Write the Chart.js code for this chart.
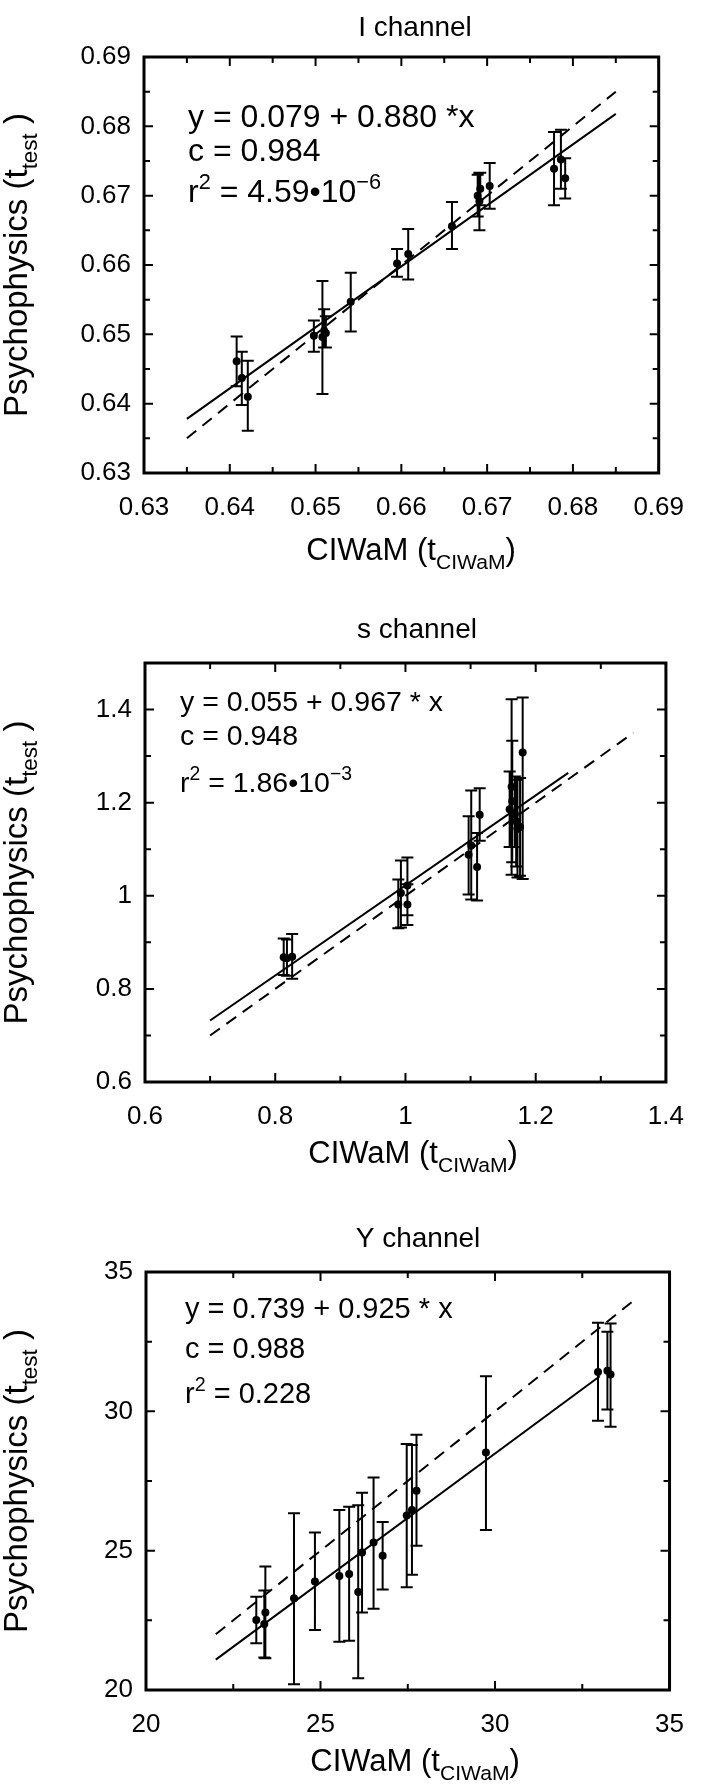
<!DOCTYPE html>
<html>
<head>
<meta charset="utf-8">
<script src="https://cdn.jsdelivr.net/npm/chart.js@4.4.1/dist/chart.umd.min.js"></script>
<style>
  html, body { margin: 0; padding: 0; background: #fff; }
  #wrap { position: relative; width: 703px; height: 1786px; overflow: hidden; }
  canvas { position: absolute; left: 0; }
</style>
</head>
<body>
<div id="wrap">
  <canvas id="chartI" width="703" height="600" style="top:0px"></canvas>
  <canvas id="chartS" width="703" height="600" style="top:600px"></canvas>
  <canvas id="chartY" width="703" height="586" style="top:1200px"></canvas>
</div>
<script>
// I channel
const xI = [0.6408, 0.6414, 0.6421, 0.6498, 0.6508, 0.6510, 0.6512, 0.6541, 0.6595, 0.6608, 0.6659, 0.6689, 0.6691, 0.6692, 0.6703, 0.6778, 0.6786, 0.6791];
const yI = [0.6461, 0.6437, 0.6410, 0.6498, 0.6496, 0.6505, 0.6502, 0.6547, 0.6602, 0.6616, 0.6656, 0.6700, 0.6692, 0.6710, 0.6714, 0.6739, 0.6752, 0.6725];
const loI = [0.6425, 0.6398, 0.6361, 0.6475, 0.6414, 0.6481, 0.6481, 0.6504, 0.6583, 0.6579, 0.6623, 0.6670, 0.6650, 0.6686, 0.6681, 0.6686, 0.6710, 0.6696];
const hiI = [0.6497, 0.6475, 0.6462, 0.6520, 0.6577, 0.6536, 0.6526, 0.6589, 0.6623, 0.6652, 0.6691, 0.6730, 0.6733, 0.6733, 0.6747, 0.6792, 0.6795, 0.6754];
const fitXI = [0.635, 0.685];
const fitYI = [0.6378, 0.6818];
const diagI = [0.635, 0.685];
const majorI = [0.63, 0.64, 0.65, 0.66, 0.67, 0.68, 0.69];
const minorI = [0.635, 0.645, 0.655, 0.665, 0.675, 0.685];

// s channel
const xS = [0.813, 0.818, 0.826, 0.989, 0.993, 1.003, 1.003, 1.097, 1.101, 1.110, 1.114, 1.160, 1.163, 1.164, 1.168, 1.170, 1.172, 1.176, 1.180];
const yS = [0.868, 0.866, 0.869, 0.981, 1.006, 1.022, 0.981, 1.088, 1.108, 1.062, 1.174, 1.186, 1.234, 1.203, 1.175, 1.160, 1.144, 1.148, 1.308];
const loS = [0.830, 0.828, 0.822, 0.930, 0.932, 0.958, 0.937, 1.003, 0.992, 0.990, 1.118, 1.105, 1.045, 1.072, 1.105, 1.063, 1.039, 1.043, 1.036];
const hiS = [0.908, 0.906, 0.918, 1.035, 1.076, 1.082, 1.025, 1.171, 1.226, 1.135, 1.231, 1.267, 1.422, 1.333, 1.256, 1.249, 1.249, 1.253, 1.426];
const fitXS = [0.7, 1.25];
const fitYS = [0.732, 1.264];
const diagS = [0.7, 1.35];
const majorXS = [0.6, 0.8, 1.0, 1.2, 1.4];
const minorXS = [0.7, 0.9, 1.1, 1.3];
const majorYS = [0.6, 0.8, 1.0, 1.2, 1.4];
const minorYS = [0.7, 0.9, 1.1, 1.3];

// Y channel
const xY = [23.16, 23.42, 23.39, 24.24, 24.84, 25.54, 25.82, 26.08, 26.19, 26.52, 26.78, 27.47, 27.62, 27.75, 29.74, 32.95, 33.22, 33.31];
const yY = [22.51, 22.78, 22.37, 23.29, 23.89, 24.09, 24.16, 23.52, 24.93, 25.29, 24.82, 26.26, 26.46, 27.15, 28.52, 31.41, 31.46, 31.32];
const loY = [21.68, 21.14, 21.17, 20.21, 22.15, 21.73, 21.77, 20.42, 22.78, 22.92, 23.61, 23.69, 24.14, 25.18, 25.74, 29.66, 30.07, 29.45];
const hiY = [23.35, 24.43, 23.57, 26.34, 25.65, 26.46, 26.58, 26.63, 27.08, 27.63, 26.03, 28.83, 28.79, 29.16, 31.26, 33.18, 32.86, 33.15];
const fitXY = [22, 33.0];
const fitYY = [21.09, 31.26];
const diagY = [22, 34];
const majorY = [20, 25, 30, 35];
const minorY = [22.5, 27.5, 32.5];

const FONT = "'Liberation Sans', Arial, Helvetica, sans-serif";
Chart.defaults.font.family = FONT;
Chart.defaults.color = "#000";

// text with sub/superscripts: parts = [[text, mode]], mode 0 normal, 1 sub, 2 sup
function richWidth(ctx, parts, size) {
  let w = 0;
  for (const [t, m] of parts) {
    ctx.font = (m ? size * 0.68 : size) + "px " + FONT;
    w += ctx.measureText(t).width;
  }
  return w;
}
function rich(ctx, x, y, parts, size) {
  let cx = x;
  for (const [t, m] of parts) {
    ctx.font = (m ? size * 0.68 : size) + "px " + FONT;
    const dy = m === 1 ? size * 0.3 : (m === 2 ? -size * 0.42 : 0);
    ctx.fillText(t, cx, y + dy);
    cx += ctx.measureText(t).width;
  }
}

const decor = {
  id: "decor",
  beforeDatasetsDraw(chart, args, o) {
    const ctx = chart.ctx, xs = chart.scales.x, ys = chart.scales.y;
    ctx.save();
    ctx.strokeStyle = "#000";
    ctx.lineWidth = 2;
    ctx.beginPath();
    o.xs.forEach((xv, i) => {
      const px = xs.getPixelForValue(xv);
      const t = ys.getPixelForValue(o.hi[i]);
      const b = ys.getPixelForValue(o.lo[i]);
      ctx.moveTo(px, t); ctx.lineTo(px, b);
      ctx.moveTo(px - 6, t); ctx.lineTo(px + 6, t);
      ctx.moveTo(px - 6, b); ctx.lineTo(px + 6, b);
    });
    ctx.stroke();
    ctx.restore();
  },
  afterDraw(chart, args, o) {
    const ctx = chart.ctx, a = chart.chartArea, xs = chart.scales.x, ys = chart.scales.y;
    ctx.save();
    ctx.strokeStyle = "#000";
    ctx.fillStyle = "#000";
    ctx.lineWidth = 2;
    ctx.beginPath();
    const tx = (v, len) => {
      const p = xs.getPixelForValue(v);
      ctx.moveTo(p, a.bottom); ctx.lineTo(p, a.bottom - len);
      ctx.moveTo(p, a.top); ctx.lineTo(p, a.top + len);
    };
    const ty = (v, len) => {
      const p = ys.getPixelForValue(v);
      ctx.moveTo(a.left, p); ctx.lineTo(a.left + len, p);
      ctx.moveTo(a.right, p); ctx.lineTo(a.right - len, p);
    };
    o.xMajor.forEach(v => tx(v, 9));
    o.xMinor.forEach(v => tx(v, 6));
    o.yMajor.forEach(v => ty(v, 9));
    o.yMinor.forEach(v => ty(v, 6));
    ctx.stroke();
    ctx.lineWidth = 3;
    ctx.strokeRect(a.left, a.top, a.width, a.height);

    // title
    ctx.textBaseline = "alphabetic";
    ctx.font = o.titleSize + "px " + FONT;
    ctx.textAlign = "center";
    ctx.fillText(o.title, o.titleX, o.titleY);
    ctx.textAlign = "left";

    // x label
    const xl = [["CIWaM (t", 0], ["CIWaM", 1], [")", 0]];
    const xw = richWidth(ctx, xl, o.xlSize);
    rich(ctx, o.xlX - xw / 2, o.xlY, xl, o.xlSize);

    // y label
    const yl = [["Psychophysics (t", 0], ["test", 1], [" )", 0]];
    const yw = richWidth(ctx, yl, o.ylSize);
    ctx.save();
    ctx.translate(o.ylX, (a.top + a.bottom) / 2);
    ctx.rotate(-Math.PI / 2);
    rich(ctx, -yw / 2, 0, yl, o.ylSize);
    ctx.restore();

    // fit statistics
    o.eq.forEach((parts, i) => rich(ctx, o.eqX, o.eqY[i], parts, o.eqSize));
    ctx.restore();
  }
};

function makeChart(id, p) {
  const W = 703;
  new Chart(document.getElementById(id), {
    type: "scatter",
    data: {
      datasets: [
        {
          data: p.xs.map((x, i) => ({ x: x, y: p.ys[i] })),
          pointRadius: 4,
          pointHoverRadius: 4,
          backgroundColor: "#000",
          borderWidth: 0,
          order: 0
        },
        {
          type: "line",
          data: p.fitX.map((x, i) => ({ x: x, y: p.fitY[i] })),
          borderColor: "#000",
          borderWidth: 2,
          pointRadius: 0,
          fill: false,
          order: 1
        },
        {
          type: "line",
          data: p.diag.map(v => ({ x: v, y: v })),
          borderColor: "#000",
          borderWidth: 2,
          borderDash: [12, 8],
          pointRadius: 0,
          fill: false,
          order: 2
        }
      ]
    },
    options: {
      responsive: false,
      animation: false,
      devicePixelRatio: 1,
      layout: { padding: { top: p.T, right: W - p.R, bottom: 0, left: 0 } },
      plugins: {
        legend: { display: false },
        tooltip: { enabled: false },
        decor: {
          xs: p.xs, lo: p.lo, hi: p.hi,
          xMajor: p.xMajor, xMinor: p.xMinor, yMajor: p.yMajor, yMinor: p.yMinor,
          title: p.title, titleX: p.titleX, titleY: p.titleY, titleSize: 28,
          xlX: p.xlX, xlY: p.xlY, xlSize: 31,
          ylX: 27, ylSize: 33,
          eq: p.eq, eqX: p.eqX, eqY: p.eqY, eqSize: p.eqSize
        }
      },
      scales: {
        x: {
          type: "linear",
          min: p.xMin, max: p.xMax,
          grid: { display: false, drawTicks: false },
          border: { display: false },
          afterBuildTicks: s => { s.ticks = p.xMajor.map(v => ({ value: v })); },
          afterFit: s => { s.height = p.H - p.B; },
          ticks: { padding: 19, font: { size: 26 }, maxRotation: 0, autoSkip: false, callback: p.fmt }
        },
        y: {
          type: "linear",
          min: p.yMin, max: p.yMax,
          grid: { display: false, drawTicks: false },
          border: { display: false },
          afterBuildTicks: s => { s.ticks = p.yMajor.map(v => ({ value: v })); },
          afterFit: s => { s.width = p.L; },
          ticks: { padding: 13, font: { size: 26 }, autoSkip: false, callback: p.fmt }
        }
      }
    },
    plugins: [decor]
  });
}

makeChart("chartI", {
  H: 600, T: 57, B: 473, L: 144, R: 667,
  xMin: 0.63, xMax: 0.69, yMin: 0.63, yMax: 0.69,
  xs: xI, ys: yI, lo: loI, hi: hiI, fitX: fitXI, fitY: fitYI, diag: diagI,
  xMajor: majorI, xMinor: minorI, yMajor: majorI, yMinor: minorI,
  fmt: v => Number(v).toFixed(2),
  title: "I channel", titleX: 415, titleY: 36,
  xlX: 411, xlY: 560,
  eq: [
    [["y = 0.079 + 0.880 *x", 0]],
    [["c = 0.984", 0]],
    [["r", 0], ["2", 2], [" = 4.59\u202210", 0], ["\u22126", 2]]
  ],
  eqX: 188, eqY: [127, 161, 202], eqSize: 32
});

makeChart("chartS", {
  H: 600, T: 63, B: 482, L: 145, R: 680,
  xMin: 0.6, xMax: 1.4, yMin: 0.6, yMax: 1.5,
  xs: xS, ys: yS, lo: loS, hi: hiS, fitX: fitXS, fitY: fitYS, diag: diagS,
  xMajor: majorXS, xMinor: minorXS, yMajor: majorYS, yMinor: minorYS,
  fmt: v => String(Number(Number(v).toFixed(1))),
  title: "s channel", titleX: 417, titleY: 38,
  xlX: 413, xlY: 563,
  eq: [
    [["y = 0.055 + 0.967 * x", 0]],
    [["c = 0.948", 0]],
    [["r", 0], ["2", 2], [" = 1.86\u202210", 0], ["\u22123", 2]]
  ],
  eqX: 180, eqY: [111, 145, 192], eqSize: 28.5
});

makeChart("chartY", {
  H: 586, T: 72, B: 490, L: 146, R: 687,
  xMin: 20, xMax: 35, yMin: 20, yMax: 35,
  xs: xY, ys: yY, lo: loY, hi: hiY, fitX: fitXY, fitY: fitYY, diag: diagY,
  xMajor: majorY, xMinor: minorY, yMajor: majorY, yMinor: minorY,
  fmt: v => String(Math.round(v)),
  title: "Y channel", titleX: 418, titleY: 47,
  xlX: 415, xlY: 571,
  eq: [
    [["y = 0.739 + 0.925 * x", 0]],
    [["c = 0.988", 0]],
    [["r", 0], ["2", 2], [" = 0.228", 0]]
  ],
  eqX: 185, eqY: [118, 158, 203], eqSize: 29
});
</script>
</body>
</html>
